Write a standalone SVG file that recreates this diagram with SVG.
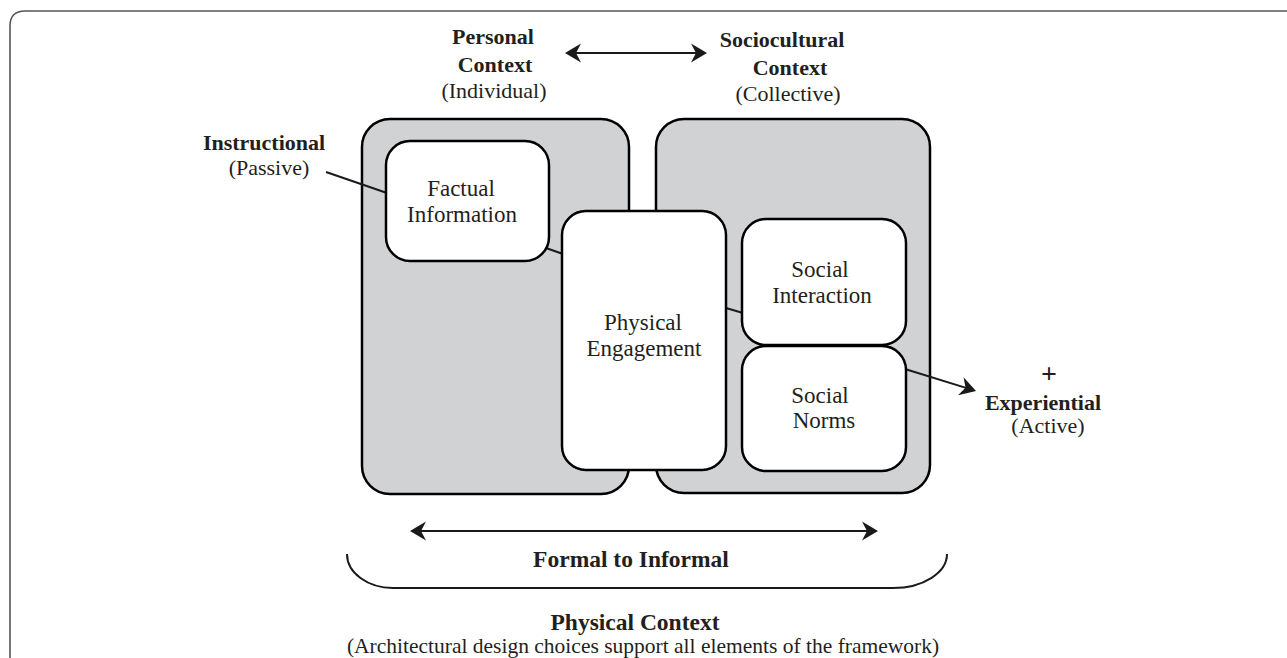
<svg xmlns="http://www.w3.org/2000/svg" width="1287" height="658" viewBox="0 0 1287 658">
<style>
.frame{fill:none;stroke:#555;stroke-width:1.6}
.ctx{fill:#d1d2d4;stroke:#000;stroke-width:2.5}
.box{fill:#fff;stroke:#000;stroke-width:2.5}
.ln{fill:none;stroke:#1a1a1a;stroke-width:2}
text{font-family:"Liberation Serif","Times New Roman",serif;fill:#231f20}
.t{font-size:23px;text-anchor:middle}
.b{font-size:22px;font-weight:bold;text-anchor:middle}
.r{font-size:22px;text-anchor:middle}
.bb{font-size:23.5px;font-weight:bold;text-anchor:middle}
.rp{font-size:21.5px;text-anchor:middle}
</style>
<defs>
<marker id="ah" viewBox="-10 -10 20 20" refX="0" refY="0" markerWidth="20" markerHeight="20" markerUnits="userSpaceOnUse" orient="auto-start-reverse">
<path d="M8,0 L-8,-9.5 L-3,0 L-8,9.5 Z" fill="#1a1a1a"/>
</marker>
</defs>
<path class="frame" d="M10,658 V26 Q10,11 25,11 H1287"/>

<g id="personal-label">
<text class="b" x="493" y="44">Personal</text>
<text class="b" x="495" y="72">Context</text>
<text class="r" x="494" y="98">(Individual)</text>
</g>
<g id="sociocultural-label">
<text class="b" x="782" y="47">Sociocultural</text>
<text class="b" x="790" y="75">Context</text>
<text class="r" x="788" y="101">(Collective)</text>
</g>
<g id="instructional-label">
<text class="b" x="264" y="150">Instructional</text>
<text class="r" x="269" y="175">(Passive)</text>
</g>
<g id="experiential-label">
<text class="b" x="1049" y="383" style="font-size:28px">+</text>
<text class="b" x="1043" y="410">Experiential</text>
<text class="r" x="1048" y="433">(Active)</text>
</g>

<g id="personal-context">
<rect class="ctx" x="362" y="119" width="267" height="375" rx="28"/>
</g>
<g id="sociocultural-context">
<rect class="ctx" x="656" y="119" width="274" height="374" rx="28"/>
</g>

<g id="connectors">
<line class="ln" x1="326" y1="172" x2="387" y2="193"/>
<line class="ln" x1="546" y1="248" x2="563" y2="254"/>
<line class="ln" x1="726" y1="308" x2="743" y2="313"/>
<line class="ln" x1="905" y1="369" x2="968.4" y2="388.6" marker-end="url(#ah)"/>
<line class="ln" x1="573" y1="53" x2="699" y2="53" marker-start="url(#ah)" marker-end="url(#ah)"/>
<line class="ln" x1="418" y1="531" x2="870" y2="531" marker-start="url(#ah)" marker-end="url(#ah)"/>
<path class="ln" d="M347,554 A46,34 0 0 0 393,588 H893 A54,34 0 0 0 947,554"/>
</g>

<g id="factual-information">
<rect class="box" x="386" y="141" width="163" height="120" rx="24"/>
<text class="t" x="461" y="196">Factual</text>
<text class="t" x="462" y="222">Information</text>
</g>
<g id="physical-engagement">
<rect class="box" x="562" y="211" width="164" height="259" rx="24"/>
<text class="t" x="643" y="330">Physical</text>
<text class="t" x="644" y="356">Engagement</text>
</g>
<g id="social-interaction">
<rect class="box" x="742" y="219" width="164" height="126" rx="24"/>
<text class="t" x="820" y="277">Social</text>
<text class="t" x="822" y="303">Interaction</text>
</g>
<g id="social-norms">
<rect class="box" x="742" y="346" width="164" height="125" rx="24"/>
<text class="t" x="820" y="403">Social</text>
<text class="t" x="824" y="428">Norms</text>
</g>

<g id="formal-informal-label">
<text class="bb" x="631" y="567">Formal to Informal</text>
</g>
<g id="physical-context-label">
<text class="bb" x="635" y="630">Physical Context</text>
<text class="rp" x="643" y="653">(Architectural design choices support all elements of the framework)</text>
</g>
</svg>
